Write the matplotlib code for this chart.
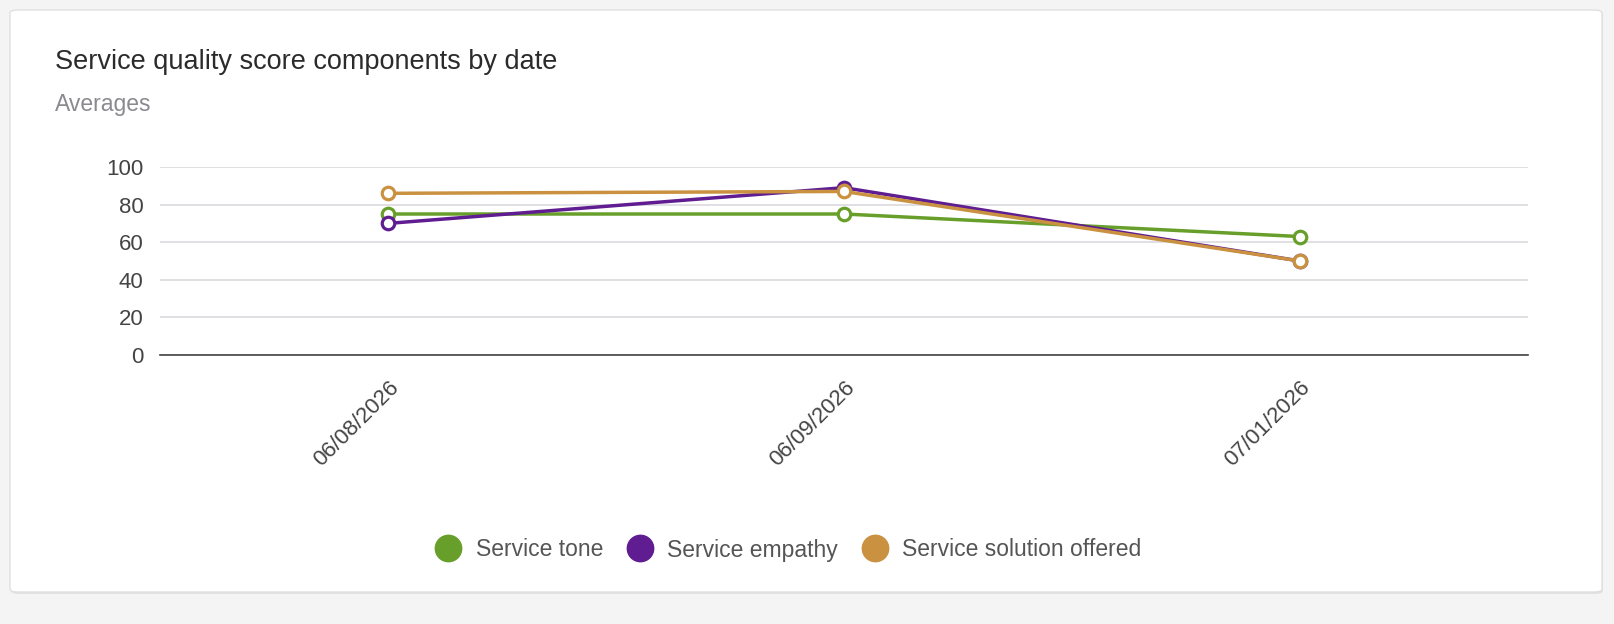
import matplotlib.pyplot as plt
from matplotlib.patches import FancyBboxPatch
from matplotlib.lines import Line2D

plt.rcParams['font.family'] = ['Liberation Sans', 'DejaVu Sans']

dates = ["06/08/2026", "06/09/2026", "07/01/2026"]
tone = [75, 75, 63]
empathy = [70, 89, 50]
solution = [86, 87, 50]
names = ["Service tone", "Service empathy", "Service solution offered"]
colors = ["#689f2a", "#5f1d91", "#c99140"]

W, H = 1614, 624
fig = plt.figure(figsize=(W / 100, H / 100), dpi=100)
fig.patch.set_facecolor("#f4f4f5")

# card (y from 10 to 592 px from the top)
shadow = FancyBboxPatch((11 / W, 30 / H), 1592 / W, 583 / H, boxstyle="round,pad=0,rounding_size=0.005",
                        transform=fig.transFigure, facecolor="#e2e2e4", edgecolor="none", zorder=-2)
card = FancyBboxPatch((10 / W, 32 / H), 1592 / W, 582 / H, boxstyle="round,pad=0,rounding_size=0.005",
                      transform=fig.transFigure, facecolor="white", edgecolor="#e0e0e2", lw=1, zorder=-1)
fig.patches.extend([shadow, card])

fig.text(55 / W, 1 - 62 / H, "Service quality score components by date", fontsize=19.5,
         color="#2b2b2b", va="center", ha="left")
fig.text(55 / W, 1 - 105 / H, "Averages", fontsize=16.5, color="#8a8a90", va="center", ha="left")

ax = fig.add_axes([160 / W, 1 - 355 / H, 1368 / W, 188 / H])
ax.set_facecolor("none")
x = range(len(dates))
for vals, c in zip([tone, empathy, solution], colors):
    ax.plot(x, vals, color=c, lw=2.5, marker="o", ms=9, mfc="white", mec=c, mew=2.3, zorder=3)

ax.set_xlim(-0.5, 2.5)
ax.set_ylim(0, 100)
ax.set_yticks(range(0, 101, 20))
ax.set_xticks(list(x))
ax.set_xticklabels(dates, rotation=45, ha="right", rotation_mode="anchor")
ax.grid(axis="y", color="#d6d6dc", lw=1.1)
ax.set_axisbelow(True)
for s in ["top", "right", "left"]:
    ax.spines[s].set_visible(False)
ax.spines["bottom"].set_color("#444444")
ax.spines["bottom"].set_linewidth(1.2)
ax.tick_params(axis="y", length=0, pad=12, labelsize=16, labelcolor="#444444")
ax.tick_params(axis="x", length=0, pad=16, labelsize=16, labelcolor="#444444")

handles = [Line2D([], [], ls="none", marker="o", ms=19, mfc=c, mec=c) for c in colors]
fig.legend(handles, names, loc="center", bbox_to_anchor=(788 / W, 1 - 550 / H), ncol=3, frameon=False,
           fontsize=16.5, labelcolor="#555555", handletextpad=0.6, columnspacing=1.0, handlelength=1.2)

fig.savefig("out.png", dpi=100, facecolor=fig.get_facecolor())
